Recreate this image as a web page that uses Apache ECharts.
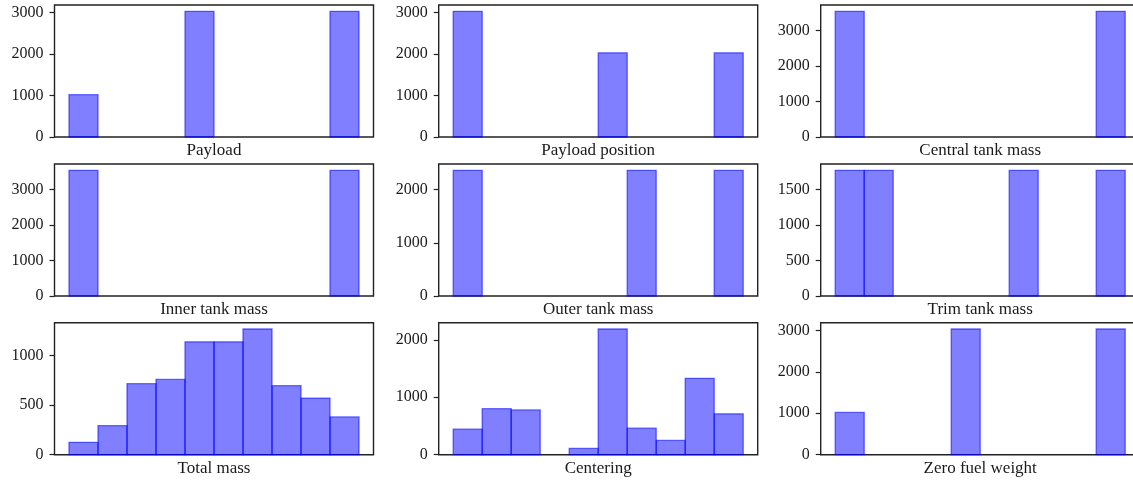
<!DOCTYPE html>
<html>
<head>
<meta charset="utf-8">
<script src="https://cdn.jsdelivr.net/npm/echarts@6/dist/echarts.min.js"></script>
<style>
html,body{margin:0;padding:0;background:#fff;}
#c{width:1133px;height:481px;}
</style>
</head>
<body>
<div id="c"></div>
<script>
// ---- data ----
const panelNames = ["Payload", "Payload position", "Central tank mass",
                    "Inner tank mass", "Outer tank mass", "Trim tank mass",
                    "Total mass", "Centering", "Zero fuel weight"];
const binEdges = [0, 1, 2, 3, 4, 5, 6, 7, 8, 9, 10];
const payload          = [1020, 0, 0, 0, 3032, 0, 0, 0, 0, 3032];
const payloadPosition  = [3030, 0, 0, 0, 0, 2028, 0, 0, 0, 2028];
const centralTankMass  = [3542, 0, 0, 0, 0, 0, 0, 0, 0, 3542];
const innerTankMass    = [3542, 0, 0, 0, 0, 0, 0, 0, 0, 3542];
const outerTankMass    = [2361, 0, 0, 0, 0, 0, 2361, 0, 0, 2361];
const trimTankMass     = [1771, 1771, 0, 0, 0, 0, 1771, 0, 0, 1771];
const totalMass        = [125, 293, 718, 760, 1140, 1140, 1270, 697, 572, 382];
const centering        = [445, 802, 780, 0, 110, 2190, 462, 248, 1330, 712];
const zeroFuelWeight   = [1020, 0, 0, 0, 3032, 0, 0, 0, 0, 3032];
const yTicks = [
  [0, 1000, 2000, 3000],
  [0, 1000, 2000, 3000],
  [0, 1000, 2000, 3000],
  [0, 1000, 2000, 3000],
  [0, 1000, 2000],
  [0, 500, 1000, 1500],
  [0, 500, 1000],
  [0, 1000, 2000],
  [0, 1000, 2000, 3000]
];
const panelCounts = [payload, payloadPosition, centralTankMass, innerTankMass,
                     outerTankMass, trimTankMass, totalMass, centering, zeroFuelWeight];

// ---- layout ----
const colLeft = [54.5, 438.7, 820.7];
const colWidth = 319;
const rowTop = [5, 164, 322.7];
const rowHeight = 132;
const FONT = "'Liberation Serif', 'DejaVu Serif', serif";
const TXT = '#1a1a1a';
const FRAME = '#222222';

const grids = [], xAxes = [], yAxes = [], series = [];
panelCounts.forEach((counts, i) => {
  const r = Math.floor(i / 3), c = i % 3;
  grids.push({
    left: colLeft[c], top: rowTop[r], width: colWidth, height: rowHeight,
    show: true, borderColor: FRAME, borderWidth: 1.4, backgroundColor: 'transparent',
    containLabel: false, outerBoundsMode: 'none'
  });
  const lo = binEdges[0], hi = binEdges[binEdges.length - 1];
  const pad = (hi - lo) * 0.05;
  xAxes.push({
    type: 'value', gridIndex: i, min: lo - pad, max: hi + pad,
    name: panelNames[i], nameLocation: 'middle', nameGap: 5,
    nameTextStyle: { fontFamily: FONT, fontSize: 17, color: TXT },
    axisLine: { show: false, onZero: false }, axisTick: { show: false },
    axisLabel: { show: false }, splitLine: { show: false }
  });
  const maxVal = Math.max(...counts) * 1.05;
  yAxes.push({
    type: 'value', gridIndex: i, min: 0, max: maxVal,
    axisLine: { show: false, onZero: false },
    axisTick: { show: true, length: 5, customValues: yTicks[i],
                lineStyle: { color: FRAME, width: 1.2 } },
    axisLabel: { show: true, customValues: yTicks[i], margin: 11,
                 formatter: v => String(v),
                 fontFamily: FONT, fontSize: 16, color: TXT },
    splitLine: { show: false }
  });
  const data = [];
  counts.forEach((v, k) => { if (v > 0) data.push([binEdges[k], binEdges[k + 1], v]); });
  series.push({
    type: 'custom', xAxisIndex: i, yAxisIndex: i,
    encode: { x: [0, 1], y: 2 },
    data: data,
    renderItem: function (params, api) {
      const p0 = api.coord([api.value(0), 0]);
      const p1 = api.coord([api.value(1), api.value(2)]);
      return {
        type: 'rect',
        shape: { x: p0[0], y: p1[1], width: p1[0] - p0[0], height: p0[1] - p1[1] },
        style: { fill: 'rgba(0,0,255,0.5)', stroke: 'rgba(0,0,255,0.55)', lineWidth: 1.3 }
      };
    }
  });
});

const chart = echarts.init(document.getElementById('c'), null, { renderer: 'canvas' });
chart.setOption({
  animation: false,
  backgroundColor: '#ffffff',
  grid: grids, xAxis: xAxes, yAxis: yAxes, series: series
});
</script>
</body>
</html>
